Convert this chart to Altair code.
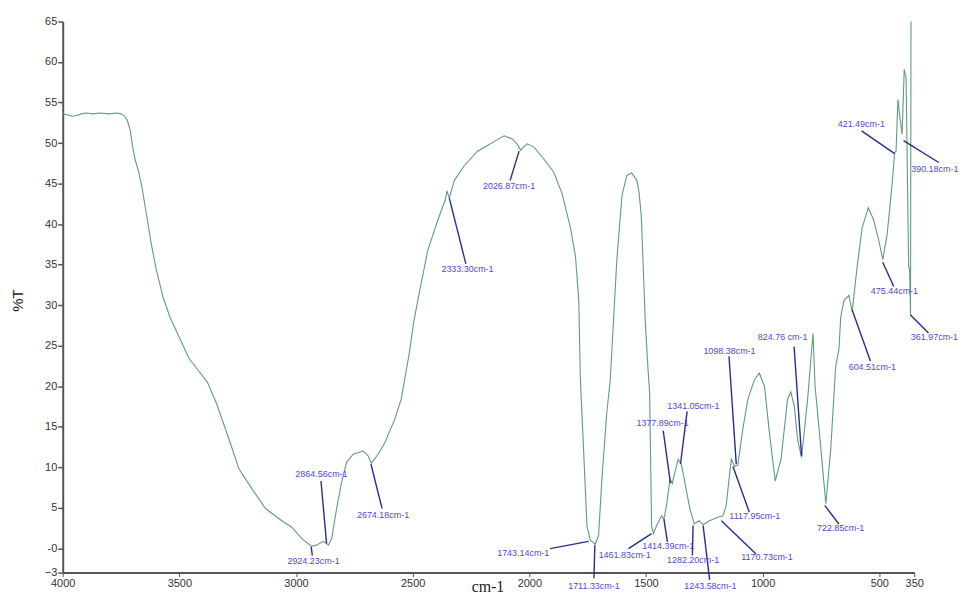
import altair as alt
import pandas as pd

# ---- spectrum (wavenumber cm-1, %T) ----
wavenumber = [4000, 3980, 3960, 3940, 3920, 3900, 3870, 3840, 3800, 3770, 3750, 3735, 3723,
              3710, 3700, 3690, 3675, 3660, 3640, 3620, 3600, 3570, 3540, 3500, 3460, 3420,
              3380, 3340, 3300, 3270, 3245, 3188, 3131, 3061, 3018, 2975, 2939, 2924, 2911,
              2883, 2861, 2847, 2826, 2805, 2783, 2755, 2712, 2691, 2677, 2648, 2620, 2577,
              2549, 2515, 2495, 2478, 2435, 2392, 2360, 2353, 2343, 2321, 2279, 2222, 2179,
              2144, 2108, 2073, 2050, 2037, 2025, 2009, 1980, 1937, 1895, 1859, 1824, 1802,
              1788, 1781, 1768, 1753, 1739, 1717, 1703, 1689, 1668, 1653, 1625, 1603, 1582,
              1561, 1539, 1530, 1520, 1512, 1503, 1492, 1484, 1476, 1468, 1454, 1433, 1423, 1412,
              1397, 1387, 1376, 1362, 1348, 1333, 1312, 1293, 1272, 1255, 1227, 1187, 1170,
              1156, 1144, 1134, 1120, 1106, 1085, 1063, 1049, 1035, 1014, 992, 971, 946, 921,
              893, 879, 864, 850, 833, 807, 784, 775, 750, 729, 708, 687, 673, 665, 651, 630,
              616, 595, 573, 547, 524, 502, 485, 466, 445, 434, 428, 420, 413, 402, 393, 385,
              374, 370, 366, 364]
transmittance = [53.6, 53.5, 53.3, 53.4, 53.6, 53.7, 53.6, 53.7, 53.6, 53.7, 53.6, 53.3, 52.8,
                 51.5, 49.5, 48.0, 46.5, 44.5, 41.0, 37.5, 34.5, 31.0, 28.5, 26.0, 23.5, 22.0,
                 20.5, 17.8, 14.5, 12.0, 9.8, 7.3, 4.9, 3.4, 2.6, 1.2, 0.35, 0.3, 0.4,
                 0.85, 0.4, 1.2, 4.9, 8.1, 10.6, 11.6, 12.0, 11.4, 10.5, 11.6, 13.0, 15.9,
                 18.4, 24.0, 28.0, 30.6, 36.8, 40.5, 43.0, 44.1, 43.2, 45.4, 47.2, 49.0, 49.7,
                 50.3, 50.9, 50.5, 49.8, 49.1, 49.5, 49.9, 49.5, 48.0, 46.4, 43.7, 39.6, 36.0,
                 30.6, 20.8, 12.6, 2.8, 1.0, 0.5, 1.6, 8.5, 16.7, 20.8, 35.5, 43.5, 46.0,
                 46.3, 45.4, 44.0, 41.0, 35.0, 28.0, 22.5, 19.0, 2.8, 1.8, 2.8, 4.0, 3.6, 5.3,
                 8.5, 8.0, 9.4, 11.0, 10.3, 8.1, 4.9, 3.0, 3.4, 2.9, 3.4, 3.9, 4.0,
                 5.3, 8.5, 11.0, 10.1, 10.3, 14.7, 18.4, 19.6, 20.8, 21.6, 20.0, 14.3, 8.3, 11.0,
                 18.4, 19.3, 17.5, 13.4, 11.2, 18.4, 26.5, 20.0, 12.2, 5.5, 12.2, 22.4, 24.5, 28.6, 30.6, 31.2,
                 29.2, 34.7, 39.6, 42.0, 40.5, 38.0, 35.6, 38.8, 44.9, 48.8, 49.0, 55.4, 53.5, 51.1, 59.1, 58.0,
                 34.7, 34.5, 28.8, 65.0]

# ---- peak annotations ----
ann_label = ["2924.23cm-1", "2864.56cm-1", "2674.18cm-1", "2333.30cm-1", "2026.87cm-1",
             "1743.14cm-1", "1711.33cm-1", "1461.83cm-1", "1414.39cm-1", "1377.89cm-1",
             "1341.05cm-1", "1282.20cm-1", "1243.58cm-1", "1170.73cm-1", "1117.95cm-1",
             "1098.38cm-1", "824.76 cm-1", "722.85cm-1", "604.51cm-1", "475.44cm-1",
             "421.49cm-1", "390.18cm-1", "361.97cm-1"]
ann_x0 = [2935, 2869, 2679, 2343, 2044, 1746, 1719, 1476, 1423, 1395, 1352, 1298, 1255, 1177,
          1127, 1113, 833, 734, 616, 485, 434, 396, 367]
ann_y0 = [0.2, 0.6, 10.4, 43.2, 49.0, 0.85, 0.44, 1.8, 3.6, 8.05, 10.4, 2.8, 2.8, 3.4, 10.1,
          10.4, 11.4, 5.3, 29.4, 35.3, 48.7, 50.3, 28.8]
ann_x1 = [2930, 2893, 2631, 2272, 2082, 1911, 1723, 1575, 1408, 1426, 1323.5, 1301, 1227, 1028,
          1057, 1144, 865, 673, 538, 438, 576, 245, 289]
ann_y1 = [-0.9, 8.3, 4.9, 35.1, 45.4, -0.05, -3.7, -0.05, 0.8, 14.5, 16.9, -0.9, -3.9, -0.7,
          4.45, 23.7, 24.9, 3.0, 23.1, 32.3, 51.5, 47.6, 26.55]
ann_tx = [2925, 2891, 2627, 2265, 2087, 2026, 1723, 1591, 1404.5, 1429, 1297, 1298, 1224, 981,
          1033.5, 1142, 914, 666, 530, 435, 577, 262, 263.5]
ann_ty = [-1.6, 9.15, 4.1, 34.4, 44.7, -0.55, -4.7, -0.8, 0.3, 15.4, 17.5, -1.5, -4.6, -1.1,
          4.0, 24.4, 26.05, 2.5, 22.4, 31.8, 52.3, 46.8, 26.05]

x_ticks = [4000, 3500, 3000, 2500, 2000, 1500, 1000, 500, 350]
y_ticks = [-3, 0, 5, 10, 15, 20, 25, 30, 35, 40, 45, 50, 55, 60, 65]

spec = pd.DataFrame({"wn": wavenumber, "t": transmittance})
ann = pd.DataFrame({"label": ann_label, "x0": ann_x0, "y0": ann_y0, "x1": ann_x1,
                    "y1": ann_y1, "tx": ann_tx, "ty": ann_ty})

xscale = alt.Scale(domain=[350, 4000], reverse=True, nice=False, zero=False)
yscale = alt.Scale(domain=[-3, 65], nice=False, zero=False)

xaxis = alt.Axis(values=x_ticks, grid=False, title="cm-1", format="d", labelOverlap=False,
                 domainColor="#555555", domainWidth=2, tickColor="#555555", tickSize=4,
                 tickWidth=1, labelFont="Liberation Sans", labelFontSize=11,
                 labelColor="#333333", labelPadding=1, labelFlush=False,
                 titleFont="Liberation Serif", titleFontSize=16, titleFontWeight="normal",
                 titleColor="#222222", titleX=427, titleY=6, titleBaseline="top")
yaxis = alt.Axis(values=y_ticks, grid=False, title="%T", format="d", labelOverlap=False,
                 labelSeparation=0, labelBound=False,
                 domainColor="#555555", domainWidth=2, tickColor="#555555", tickSize=5,
                 tickWidth=1.5, labelFont="Liberation Sans", labelFontSize=11,
                 labelColor="#333333", labelPadding=1, labelFlush=False,
                 labelExpr="datum.value == 0 ? '-0' : datum.label",
                 titleFont="Liberation Sans", titleFontSize=15, titleFontWeight="normal",
                 titleColor="#222222", titleX=-45, titleY=280, titleBaseline="middle")

line = alt.Chart(spec).mark_line(color="#5e9c82", strokeWidth=1.1).encode(
    x=alt.X("wn:Q", scale=xscale, axis=xaxis),
    y=alt.Y("t:Q", scale=yscale, axis=yaxis),
)

rules = alt.Chart(ann).mark_rule(color="#2b2b90", strokeWidth=1.4).encode(
    x=alt.X("x0:Q", scale=xscale, axis=xaxis), y=alt.Y("y0:Q", scale=yscale, axis=yaxis),
    x2="x1:Q", y2="y1:Q",
)

labels = alt.Chart(ann).mark_text(font="Liberation Sans", fontSize=9, color="#4a4ad6",
                                  align="center", baseline="middle").encode(
    x=alt.X("tx:Q", scale=xscale, axis=xaxis), y=alt.Y("ty:Q", scale=yscale, axis=yaxis),
    text="label:N",
)

chart = alt.layer(line, rules, labels).properties(
    width=856, height=554,
    background="white",
    autosize=alt.AutoSizeParams(type="none"),
    padding={"left": 55, "top": 12, "right": 48, "bottom": 25},
).configure_view(stroke=None).configure_axis(labelOverlap=False)

chart.save("out.html", embed_options={"renderer": "svg", "actions": False})
